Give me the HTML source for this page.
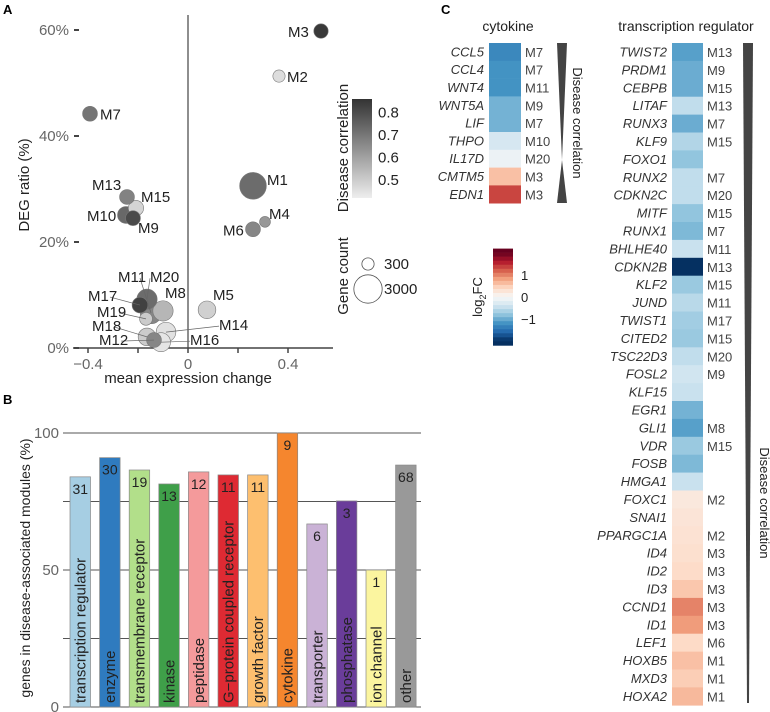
<!DOCTYPE html>
<html><head><meta charset="utf-8"><style>
html,body{margin:0;padding:0;background:#fff;}
svg{display:block;font-family:"Liberation Sans",Arial,sans-serif;}
</style></head><body>
<svg id="fig" width="770" height="712" viewBox="0 0 770 712" xmlns="http://www.w3.org/2000/svg">
<text x="3" y="14" font-size="13" font-weight="bold">A</text>
<text x="3" y="404" font-size="13" font-weight="bold">B</text>
<text x="441" y="14" font-size="13" font-weight="bold">C</text>
<g id="pa"></g>
<g id="pb"></g>
<g id="pc"></g>
</svg>
<script>
// ---------- Panel A data ----------
const modNames = ["M1","M2","M3","M4","M5","M6","M7","M8","M9","M10","M11","M12","M13","M14","M15","M16","M17","M18","M19","M20"];
const modX = [0.26,0.364,0.532,0.308,0.076,0.26,-0.392,-0.1,-0.22,-0.248,-0.148,-0.136,-0.244,-0.088,-0.208,-0.108,-0.192,-0.164,-0.168,-0.164];
const modY = [30.6,51.3,59.8,23.8,7.2,22.4,44.2,7.0,24.5,25.1,6.6,1.5,28.5,3.0,26.4,1.1,8.1,2.1,5.5,9.2];
const modSize = [2600,300,500,200,900,550,550,1300,550,800,1500,550,550,1200,600,1100,650,900,350,1300];
const modCorr = [0.72,0.46,0.84,0.62,0.49,0.66,0.7,0.55,0.8,0.73,0.66,0.66,0.67,0.45,0.48,0.44,0.82,0.5,0.5,0.72];
const corrTicks = [0.5,0.6,0.7,0.8];
const xTicksA = [-0.4,-0.2,0,0.2,0.4];
const xTickLabelsA = ["\u22120.4","","0","","0.4"];
const yTicksA = [0,20,40,60];
// label offsets relative to point (layout only)
const labDX = [14,8,-33,4,6,-30,10,2,5,-39,-33,-55,-35,53,5,29,-52,-55,-49,3];
const labDY = [-1,6,6,-3,-10,6,6,-13,15,6,-31,5,-7,-2,-6,3,-4,-6,-2,-17];
const leaderIdx = [10,11,13,15,16,17,18,19];

const NS="http://www.w3.org/2000/svg";
function mk(tag,attrs,parent){const e=document.createElementNS(NS,tag);for(const k in attrs)e.setAttribute(k,attrs[k]);parent.appendChild(e);return e;}
function txt(parent,x,y,s,attrs){const e=mk('text',Object.assign({x:x,y:y},attrs||{}),parent);e.textContent=s;return e;}

const pa=document.getElementById('pa');
const ax=v=>188+v*250, ay=v=>348-v*5.3;
const rad=s=>2.4+Math.sqrt(s)*0.215;
function grey(c){const t=Math.max(0,Math.min(1,(c-0.42)/(0.86-0.42)));const v=Math.round(238-t*(238-48));return `rgb(${v},${v},${v})`;}
let l=mk('line',{x1:188,y1:15,x2:188,y2:348,stroke:'#444','stroke-width':1.2},pa);

l=mk('line',{x1:73,y1:348,x2:333,y2:348,stroke:'#444','stroke-width':1.5},pa);

xTicksA.forEach((v,i)=>{const t=mk('line',{x1:ax(v),y1:348,x2:ax(v),y2:353,stroke:'#444','stroke-width':1.5},pa);

if(xTickLabelsA[i]){const e=txt(pa,ax(v),369,xTickLabelsA[i],{'font-size':15,fill:'#666','text-anchor':'middle'});
}});
yTicksA.forEach(v=>{const t=mk('line',{x1:74,y1:ay(v),x2:79,y2:ay(v),stroke:'#444','stroke-width':2},pa);

const e=txt(pa,69,ay(v)+5,v+'%',{'font-size':15,fill:'#666','text-anchor':'end'});
});
let e=txt(pa,188,383,'mean expression change',{'font-size':15,fill:'#222','text-anchor':'middle'});

e=txt(pa,0,0,'DEG ratio (%)',{'font-size':15,fill:'#222','text-anchor':'middle',transform:'translate(29,185) rotate(-90)'});

const order=modNames.map((n,i)=>i).sort((a,b)=>modSize[b]-modSize[a]);
order.forEach(i=>{const c=mk('circle',{cx:ax(modX[i]),cy:ay(modY[i]),r:rad(modSize[i]),fill:grey(modCorr[i]),stroke:'#777','stroke-width':0.6},pa);
});
leaderIdx.forEach(i=>{const px=ax(modX[i]),py=ay(modY[i]);const lx=px+labDX[i]+(labDX[i]<0?22:0),ly=py+labDY[i]-4;
const ln=mk('line',{x1:lx,y1:ly,x2:px,y2:py,stroke:'#666','stroke-width':0.7},pa);
});
modNames.forEach((n,i)=>{const e=txt(pa,ax(modX[i])+labDX[i],ay(modY[i])+labDY[i],n,{'font-size':15,fill:'#222'});
});
const defs=mk('defs',{},document.getElementById('fig'));
const lg=mk('linearGradient',{id:'gcorr',x1:0,y1:0,x2:0,y2:1},defs);
mk('stop',{offset:0,'stop-color':'#333'},lg);mk('stop',{offset:1,'stop-color':'#eee'},lg);
let r=mk('rect',{x:352,y:99,width:20,height:99,fill:'url(#gcorr)'},pa);

const cb=v=>198-(v-0.42)/(0.86-0.42)*99;
corrTicks.forEach(v=>{const e=txt(pa,378,cb(v)+5,v.toFixed(1),{'font-size':15,fill:'#222'});
});
e=txt(pa,0,0,'Disease correlation',{'font-size':15,fill:'#222','text-anchor':'middle',transform:'translate(348,148) rotate(-90)'});

const sizeLeg=[300,3000];
sizeLeg.forEach((s,k)=>{const cy=k?289:264;const c=mk('circle',{cx:368,cy:cy,r:rad(s),fill:'#fff',stroke:'#555','stroke-width':0.8},pa);

const e=txt(pa,384,cy+5,String(s),{'font-size':15,fill:'#222'});
});
e=txt(pa,0,0,'Gene count',{'font-size':15,fill:'#222','text-anchor':'middle',transform:'translate(348,276) rotate(-90)'});


// ---------- Panel B data ----------
const barCats=["transcription regulator","enzyme","transmembrane receptor","kinase","peptidase","G\u2212protein coupled receptor","growth factor","cytokine","transporter","phosphatase","ion channel","other"];
const barVals=[84,91,86.5,81.4,85.8,84.7,84.7,100,66.8,75.2,50,88.3];
const barCounts=[31,30,19,13,12,11,11,9,6,3,1,68];
const barColors=["#a6cee3","#2f7bbf","#b2df8a","#3f9f49","#f49a9b","#de2a33","#fdbf6f","#f5862e","#cab2d6","#6a3d9a","#fbf59f","#999999"];
const yTicksB=[0,25,50,75,100];
const yTickLabelsB=["0","","50","","100"];
const pb=document.getElementById('pb');
const by=v=>707-v*2.74;
yTicksB.forEach((v,i)=>{const g=mk('line',{x1:63,y1:by(v),x2:421,y2:by(v),stroke:'#555','stroke-width':1},pb);

if(yTickLabelsB[i]){const e=txt(pb,59,by(v)+5,yTickLabelsB[i],{'font-size':15,fill:'#666','text-anchor':'end'});
}});
e=txt(pb,0,0,'genes in disease-associated modules (%)',{'font-size':14,fill:'#222','text-anchor':'middle',transform:'translate(30,568) rotate(-90)'});

barCats.forEach((c,i)=>{const x=70+i*29.6;const r=mk('rect',{x:x,y:by(barVals[i]),width:20.5,height:707-by(barVals[i]),fill:barColors[i],stroke:'#888','stroke-width':0.7},pb);

const n=txt(pb,x+10.25,by(barVals[i])+17,String(barCounts[i]),{'font-size':14,fill:'#222','text-anchor':'middle'});

const t=txt(pb,0,0,c,{'font-size':15,fill:'#222',transform:`translate(${x+15.5},703) rotate(-90)`});
});

// ---------- Panel C data ----------
const cytGenes=["CCL5","CCL4","WNT4","WNT5A","LIF","THPO","IL17D","CMTM5","EDN1"];
const cytFC=[-1.3,-1.2,-1.2,-0.95,-0.95,-0.35,-0.12,0.6,1.35];
const cytMods=["M7","M7","M11","M9","M7","M10","M20","M3","M3"];
const trGenes=["TWIST2","PRDM1","CEBPB","LITAF","RUNX3","KLF9","FOXO1","RUNX2","CDKN2C","MITF","RUNX1","BHLHE40","CDKN2B","KLF2","JUND","TWIST1","CITED2","TSC22D3","FOSL2","KLF15","EGR1","GLI1","VDR","FOSB","HMGA1","FOXC1","SNAI1","PPARGC1A","ID4","ID2","ID3","CCND1","ID1","LEF1","HOXB5","MXD3","HOXA2"];
const trFC=[-1.1,-1.0,-1.0,-0.5,-1.0,-0.6,-0.8,-0.5,-0.5,-0.8,-0.9,-0.45,-2.0,-0.75,-0.55,-0.7,-0.75,-0.5,-0.4,-0.45,-0.95,-1.1,-0.75,-0.9,-0.45,0.22,0.27,0.3,0.33,0.38,0.55,1.0,0.85,0.4,0.6,0.5,0.65];
const trMods=["M13","M9","M15","M13","M7","M15","","M7","M20","M15","M7","M11","M13","M15","M11","M17","M15","M20","M9","","","M8","M15","","","M2","","M2","M3","M3","M3","M3","M3","M6","M1","M1","M1"];
const fcTicks=[1,0,-1];
const rdbu=["#053061","#2166ac","#4393c3","#92c5de","#d1e5f0","#f7f7f7","#fddbc7","#f4a582","#d6604d","#b2182b","#67001f"];
const FCMAX=2.0;
function hex(h){return [1,3,5].map(k=>parseInt(h.substr(k,2),16));}
function fcColor(v){let t=(v+FCMAX)/(2*FCMAX)*10;t=Math.max(0,Math.min(10,t));const i=Math.min(9,Math.floor(t)),f=t-i;const a=hex(rdbu[i]),b=hex(rdbu[i+1]);
return 'rgb('+a.map((x,k)=>Math.round(x+(b[k]-x)*f)).join(',')+')';}
const pc=document.getElementById('pc');
function heat(genes,fc,mods,x0,w,rh,name){genes.forEach((g,i)=>{const y=43+i*rh;
const r=mk('rect',{x:x0,y:y,width:w,height:rh+0.3,fill:fcColor(fc[i])},pc);

const t=txt(pc,x0-5,y+rh/2+4.5,g,{'font-size':13,'font-style':'italic',fill:'#333','text-anchor':'end'});

if(mods[i]){const m=txt(pc,x0+w+4,y+rh/2+5,mods[i],{'font-size':13,fill:'#444'});
}});}
heat(cytGenes,cytFC,cytMods,489,32,17.8,'cytokine');
heat(trGenes,trFC,trMods,672,31,17.9,'tr');
e=txt(pc,508,31,'cytokine',{'font-size':14,fill:'#222','text-anchor':'middle'});

e=txt(pc,686,31,'transcription regulator',{'font-size':14,fill:'#222','text-anchor':'middle'});

let p=mk('polygon',{points:'557,43 567,43 562,160',fill:'#444'},pc);

p=mk('polygon',{points:'562,160 567,203 557,203',fill:'#444'},pc);

e=txt(pc,0,0,'Disease correlation',{'font-size':13,fill:'#222','text-anchor':'middle',transform:'translate(573,123) rotate(90)'});

p=mk('polygon',{points:'743,43 753,43 749,703 747,703',fill:'#444'},pc);

e=txt(pc,0,0,'Disease correlation',{'font-size':13,fill:'#222','text-anchor':'middle',transform:'translate(760,503) rotate(90)'});

const fcy=v=>297-v*22;
for(let k=0;k<24;k++){const v=2.2-(k+0.5)*4.4/24;const r=mk('rect',{x:493,y:fcy(2.2)+k*4.4*22/24,width:20,height:4.4*22/24+0.3,fill:fcColor(v)},pc);
}
fcTicks.forEach(v=>{const e=txt(pc,521,fcy(v)+5,v<0?'\u2212'+Math.abs(v):String(v),{'font-size':13,fill:'#222'});
});
const lt=mk('text',{'font-size':13,fill:'#222','text-anchor':'middle',transform:'translate(482,297) rotate(-90)'},pc);

lt.appendChild(document.createTextNode('log'));
const sub=mk('tspan',{'font-size':9,dy:4},lt);sub.textContent='2';
const fcs=mk('tspan',{dy:-4},lt);fcs.textContent='FC';
</script>
</body></html>
